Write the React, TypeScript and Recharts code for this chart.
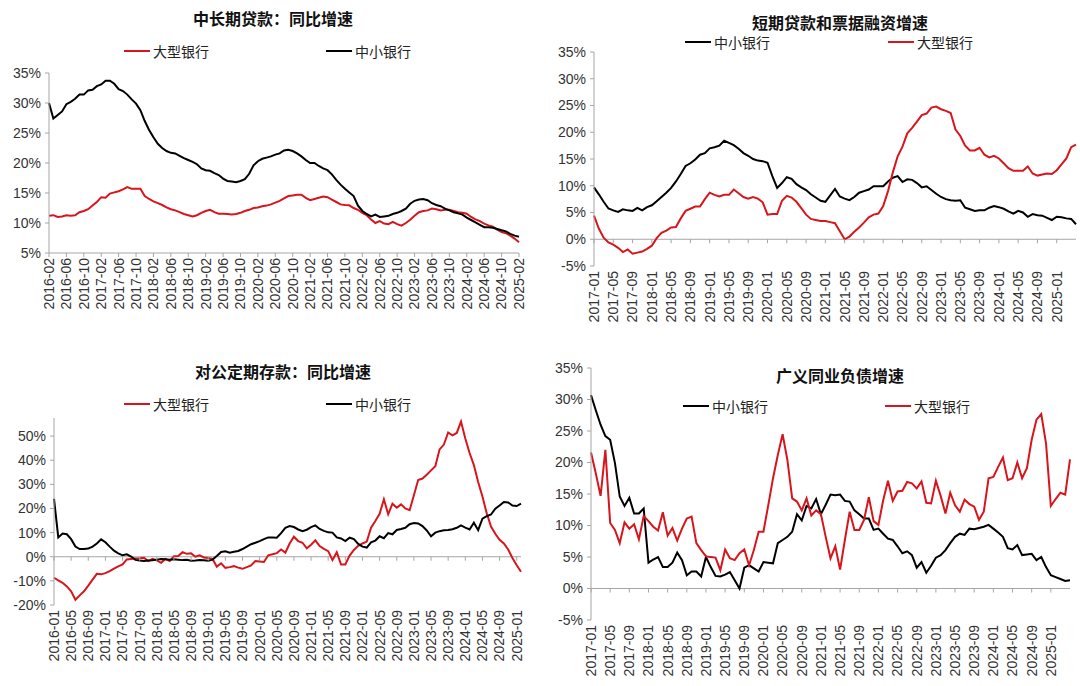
import { LineChart, Line, XAxis, YAxis, ReferenceLine } from "recharts";

const RED = "#d7151c";
const BLACK = "#000000";
const AXIS = "#a6a6a6";
const TEXT = "#333333";
const LATIN = '"Liberation Sans", Arial, sans-serif';
const CJK = '"Noto Sans CJK SC", "Noto Sans", sans-serif';

const W = 540;
const H = 343;
const XH = 60;

function months(year: number, month: number, count: number) {
  const out: string[] = [];
  for (let i = 0; i < count; i++) {
    const m = month - 1 + i;
    const y = year + Math.floor(m / 12);
    out.push(`${y}-${String((m % 12) + 1).padStart(2, "0")}`);
  }
  return out;
}

// 中长期贷款：同比增速 (2016-02 .. 2025-02)
const loanMonths = months(2016, 2, 109);
const loanLarge = [
  11.2, 11.3, 11.0, 11.1, 11.3, 11.2, 11.3, 11.8, 12.0, 12.3,
  12.9, 13.5, 14.3, 14.2, 14.9, 15.1, 15.3, 15.6, 16.0, 15.7,
  15.7, 15.7, 14.5, 14.0, 13.6, 13.3, 13.0, 12.6, 12.3, 12.1,
  11.8, 11.5, 11.3, 11.1, 11.3, 11.7, 12.0, 12.2, 11.8, 11.55,
  11.55, 11.5, 11.4, 11.5, 11.7, 12.0, 12.2, 12.5, 12.6, 12.8,
  12.9, 13.1, 13.4, 13.7, 14.1, 14.5, 14.6, 14.7, 14.7, 14.2,
  13.8, 14.0, 14.2, 14.4, 14.3, 13.9, 13.5, 13.1, 13.0, 12.95,
  12.5, 12.2, 11.7, 11.3, 10.6, 10.0, 10.3, 9.9, 9.8, 10.2,
  9.8, 9.55, 10.0, 10.55, 11.2, 11.8, 12.0, 12.1, 12.4, 12.3,
  12.1, 12.2, 12.2, 12.0, 11.8, 11.7, 11.55, 11.0, 10.6, 10.3,
  9.9, 9.6, 9.4, 8.9, 8.5, 8.3, 7.9, 7.4, 6.8,
];
const loanSmall = [
  30.0, 27.4, 28.0, 28.6, 29.8, 30.2, 30.7, 31.4, 31.4, 32.1,
  32.2, 32.8, 33.1, 33.7, 33.7, 33.2, 32.3, 32.0, 31.4, 30.6,
  29.9, 28.8, 27.0, 25.5, 24.3, 23.2, 22.5, 22.0, 21.7, 21.6,
  21.2, 20.8, 20.5, 20.2, 19.8, 19.1, 18.8, 18.7, 18.3, 18.0,
  17.4, 17.0, 16.9, 16.8, 17.0, 17.3, 18.2, 19.6, 20.3, 20.7,
  20.9, 21.1, 21.4, 21.6, 22.1, 22.2, 22.0, 21.6, 21.1, 20.5,
  20.0, 20.0, 19.5, 19.1, 18.8, 18.1, 17.2, 16.4, 15.7, 15.1,
  14.5, 12.9, 12.0, 11.5, 11.1, 11.4, 11.0, 11.1, 11.2, 11.5,
  11.7, 12.0, 12.4, 13.2, 13.7, 13.9, 14.0, 13.8, 13.3, 13.0,
  12.8, 12.4, 12.1, 11.8, 11.6, 11.4, 10.9, 10.5, 10.1, 9.7,
  9.3, 9.3, 9.2, 9.0, 8.8, 8.6, 8.2, 7.9, 7.7,
];
const loanTicks = loanMonths.filter((_, i) => i % 4 === 0);
const loanY = [5, 10, 15, 20, 25, 30, 35];

// 短期贷款和票据融资增速 (2017-01 .. 2025-05)
const shortMonths = months(2017, 1, 101);
const shortSmall = [
  9.7, 8.4, 7.0, 5.75, 5.4, 5.1, 5.6, 5.4, 5.3, 5.85,
  5.4, 6.0, 6.35, 7.1, 7.9, 8.7, 9.6, 10.8, 12.2, 13.7,
  14.2, 14.9, 15.8, 16.1, 17.0, 17.2, 17.5, 18.4, 18.0, 17.6,
  16.9, 16.1, 15.6, 15.0, 14.7, 14.6, 14.3, 11.8, 9.6, 10.5,
  11.6, 11.3, 10.3, 9.7, 9.2, 8.4, 7.8, 7.2, 7.0, 8.2,
  9.4, 8.0, 7.6, 7.3, 7.9, 8.7, 9.0, 9.3, 9.9, 9.9,
  9.9, 10.8, 11.5, 11.8, 10.7, 11.2, 11.1, 10.5, 9.7, 9.9,
  9.2, 8.5, 7.9, 7.5, 7.3, 7.2, 7.3, 5.9, 5.6, 5.3,
  5.4, 5.4, 5.9, 6.2, 6.0, 5.7, 5.2, 4.8, 5.3, 5.0,
  4.2, 4.7, 4.5, 4.4, 4.0, 3.6, 4.2, 4.1, 3.9, 3.8,
  2.8,
];
const shortLarge = [
  4.4, 2.0, 0.3, -0.6, -1.0, -1.6, -2.4, -1.9, -2.7, -2.5,
  -2.3, -1.8, -1.2, 0.2, 1.2, 1.6, 2.2, 2.3, 3.9, 5.3,
  5.7, 6.1, 6.1, 7.5, 8.7, 8.3, 8.0, 8.3, 8.3, 9.3,
  8.6, 7.9, 7.6, 7.9, 7.6, 6.9, 4.6, 4.7, 4.7, 7.2,
  8.1, 7.8, 7.0, 5.8, 4.6, 3.8, 3.6, 3.4, 3.4, 3.2,
  3.0, 1.5, 0.0, 0.5, 1.4, 2.2, 3.1, 4.1, 4.6, 4.8,
  6.2, 9.0, 12.5, 15.5, 17.3, 19.8, 20.8, 22.0, 23.2, 23.5,
  24.6, 24.8, 24.3, 24.0, 23.6, 20.5, 19.3, 17.5, 16.6, 16.6,
  17.1, 15.8, 15.3, 15.6, 15.1, 14.2, 13.3, 12.8, 12.8, 12.8,
  13.6, 12.3, 11.9, 12.1, 12.3, 12.2, 12.9, 14.0, 15.1, 17.2,
  17.7,
];
const shortTicks = shortMonths.filter((_, i) => i % 4 === 0 && i <= 96);
const shortY = [-5, 0, 5, 10, 15, 20, 25, 30, 35];

// 对公定期存款：同比增速 (2016-01 .. 2025-02)
const depMonths = months(2016, 1, 110);
const depLarge = [
  -8.7, -9.8, -10.8, -12.3, -14.3, -17.8, -16.0, -14.3, -12.0, -9.5,
  -7.1, -7.3, -6.8, -6.0, -4.9, -4.0, -3.2, -1.1, -0.9, -0.7,
  -0.6, -0.4, -1.8, -0.9, -1.5, -2.5, -0.9, -1.8, 0.2, 0.3,
  1.9, 1.2, 1.4, 0.0, 0.6, -0.3, -0.5, -0.9, -4.1, -2.7,
  -4.6, -4.3, -3.9, -4.5, -5.0, -4.3, -3.6, -1.8, -2.0, -2.2,
  0.6, 1.0, 1.5, 3.0, 1.7, 5.5, 8.3, 6.5, 5.8, 3.5,
  5.0, 6.8, 4.4, 3.3, 2.3, -1.4, 1.9, -3.2, -3.2, 0.5,
  2.8, 4.5, 5.5, 6.3, 12.0, 14.8, 17.8, 23.8, 17.6, 22.0,
  20.3, 21.7, 20.0, 19.3, 25.5, 31.8, 32.4, 34.0, 35.8, 37.5,
  44.5, 46.5, 51.5, 50.3, 51.3, 56.0, 49.0, 43.0, 38.0, 31.0,
  25.0, 18.0, 12.5, 9.5, 7.0, 5.5, 3.0, -0.5, -3.5, -6.2,
];
const depSmall = [
  24.0, 8.0, 9.6, 9.3, 7.3, 4.2, 3.2, 3.2, 3.4, 4.2,
  5.5, 7.2, 6.0, 4.2, 2.5, 1.4, 0.6, 1.0, 0.1, -1.3,
  -1.6, -1.8, -1.6, -1.5, -1.2, -0.9, -1.0, -1.2, -1.0, -1.2,
  -1.4, -1.3, -1.7, -1.6, -1.4, -1.5, -1.7, -1.2, 0.3, 2.0,
  2.3, 1.7, 2.1, 2.4, 3.2, 4.2, 5.2, 5.8, 6.5, 7.3,
  8.0, 8.0, 7.9, 9.8, 12.0, 12.7, 12.3, 11.3, 10.6, 11.2,
  12.3, 13.0, 11.5, 10.7, 10.1, 10.0, 8.0, 7.6, 6.5, 7.9,
  7.3, 5.3, 4.2, 3.8, 6.0, 6.7, 8.5, 7.7, 9.8, 9.3,
  11.1, 11.5, 12.0, 13.5, 14.0, 13.8, 12.7, 10.9, 8.5, 10.0,
  10.6, 11.0, 11.1, 11.4, 12.0, 13.0, 12.1, 11.3, 14.1, 11.0,
  15.8, 16.8, 17.5, 19.9, 21.2, 22.7, 22.5, 21.2, 21.0, 22.0,
];
const depTicks = depMonths.filter((_, i) => i % 4 === 0);
const depY = [-20, -10, 0, 10, 20, 30, 40, 50];

// 广义同业负债增速 (2017-01 .. 2025-05)
const ibMonths = months(2017, 1, 101);
const ibSmall = [
  30.7, 28.3, 26.0, 24.2, 23.6, 19.9, 14.6, 13.1, 14.4, 11.9,
  11.9, 12.7, 4.1, 4.6, 5.0, 3.4, 3.4, 4.1, 5.7, 4.5,
  2.1, 2.7, 2.7, 1.9, 5.0, 3.4, 2.0, 1.9, 2.2, 2.6,
  1.3, 0.0, 3.3, 3.7, 3.2, 2.7, 4.2, 4.1, 4.0, 7.2,
  7.7, 8.2, 9.0, 11.8, 10.8, 13.1, 12.7, 14.2, 11.8, 13.3,
  14.9, 14.8, 14.9, 13.9, 13.8, 12.4, 11.8, 11.1, 11.1, 9.3,
  9.5, 8.7, 7.9, 7.7, 6.7, 5.6, 5.9, 5.3, 3.3, 4.2,
  2.5, 3.6, 4.9, 5.3, 6.1, 7.2, 8.2, 8.7, 8.5, 9.5,
  9.4, 9.6, 9.8, 10.1, 9.5, 8.9, 8.2, 6.4, 6.2, 6.9,
  5.3, 5.4, 5.5, 4.5, 5.0, 3.4, 2.1, 1.8, 1.5, 1.2,
  1.3,
];
const ibLarge = [
  21.6, 18.3, 14.7, 22.0, 10.4, 9.3, 7.2, 10.5, 9.5, 10.2,
  7.8, 11.5, 10.7, 9.8, 9.2, 12.1, 8.4, 9.6, 7.6, 9.5,
  11.1, 11.4, 7.2, 6.1, 5.1, 5.0, 4.9, 2.9, 6.2, 4.8,
  4.5, 5.6, 6.2, 3.7, 6.1, 9.0, 9.0, 13.2, 17.5, 21.2,
  24.5, 20.4, 14.3, 13.8, 12.4, 14.3, 11.6, 12.4, 11.8, 8.2,
  4.8, 6.7, 3.0, 7.7, 12.2, 9.3, 9.3, 10.9, 14.5, 10.7,
  10.1, 14.0, 17.1, 13.9, 15.4, 15.5, 16.9, 16.7, 15.9, 17.0,
  13.6, 13.5, 17.1, 14.7, 11.9, 15.2, 13.2, 12.2, 14.1, 13.4,
  13.0, 10.9, 12.2, 17.5, 17.7, 19.3, 20.8, 17.2, 17.5, 20.0,
  17.5, 19.1, 23.6, 26.8, 27.7, 23.0, 13.1, 14.2, 15.2, 14.9,
  20.5,
];
const ibTicks = ibMonths.filter((_, i) => i % 4 === 0 && i <= 96);
const ibY = [-5, 0, 5, 10, 15, 20, 25, 30, 35];

type Row = { month: string; large: number; small: number };
function rows(m: string[], large: number[], small: number[]): Row[] {
  return m.map((month, i) => ({ month, large: large[i], small: small[i] }));
}

type LegendItem = { x: number; label: string; color: string };
type PanelProps = {
  left: number;
  top: number;
  title: string;
  titleX: number;
  titleY: number;
  legendY: number;
  legend: LegendItem[];
  data: Row[];
  order: ("large" | "small")[];
  domain: [number, number];
  yTicks: number[];
  xTicks: string[];
  margin: { top: number; right: number; bottom: number; left: number };
  yWidth: number;
  zeroAxis: boolean;
};

function Panel(p: PanelProps) {
  const plotH = H - p.margin.top - p.margin.bottom - XH;
  const plotBottom = p.margin.top + plotH;
  const markY = p.zeroAxis
    ? p.margin.top + (plotH * p.domain[1]) / (p.domain[1] - p.domain[0])
    : plotBottom;
  const labelTop = plotBottom + 5;

  const renderTick = (props: any) => {
    const { x, payload } = props;
    return (
      <g>
        <line x1={x} x2={x} y1={markY} y2={markY + 4} stroke={AXIS} strokeWidth={1} />
        <text
          x={x}
          y={labelTop}
          transform={`rotate(-90, ${x}, ${labelTop})`}
          textAnchor="end"
          dy="0.35em"
          fontSize={14}
          fontFamily={LATIN}
          fill={TEXT}
        >
          {payload.value}
        </text>
      </g>
    );
  };

  return (
    <div style={{ position: "absolute", left: p.left, top: p.top, width: W, height: H }}>
      <LineChart width={W} height={H} data={p.data} margin={p.margin}>
        <XAxis
          dataKey="month"
          ticks={p.xTicks}
          interval={0}
          height={XH}
          axisLine={p.zeroAxis ? false : { stroke: AXIS }}
          tickLine={false}
          tick={renderTick}
        />
        <YAxis
          type="number"
          domain={p.domain}
          ticks={p.yTicks}
          interval={0}
          allowDataOverflow
          width={p.yWidth}
          tickFormatter={(v: number) => `${v}%`}
          axisLine={{ stroke: AXIS }}
          tickLine={{ stroke: AXIS }}
          tickSize={4}
          tickMargin={4}
          tick={{ fontSize: 14, fill: TEXT, fontFamily: LATIN }}
        />
        {p.zeroAxis && <ReferenceLine y={0} stroke={AXIS} strokeWidth={1} />}
        {p.order.map((key) => (
          <Line
            key={key}
            type="linear"
            dataKey={key}
            stroke={key === "large" ? RED : BLACK}
            strokeWidth={2}
            dot={false}
            isAnimationActive={false}
          />
        ))}
      </LineChart>
      <div
        style={{
          position: "absolute",
          left: p.titleX - 200,
          top: p.titleY - 11,
          width: 400,
          textAlign: "center",
          fontFamily: CJK,
          fontWeight: 700,
          fontSize: 16,
          lineHeight: "22px",
          color: "#111",
        }}
      >
        {p.title}
      </div>
      {p.legend.map((it) => (
        <div
          key={it.label}
          style={{
            position: "absolute",
            left: it.x,
            top: p.legendY - 10,
            height: 20,
            display: "flex",
            alignItems: "center",
            fontFamily: CJK,
            fontSize: 14,
            color: "#222",
            whiteSpace: "nowrap",
          }}
        >
          <span style={{ display: "inline-block", width: 26, height: 2, background: it.color, marginRight: 3 }} />
          <span>{it.label}</span>
        </div>
      ))}
    </div>
  );
}

export default function App() {
  return (
    <div style={{ position: "absolute", left: 0, top: 0, width: 1080, height: 686, background: "#fff", overflow: "hidden" }}>
      <Panel
        left={0}
        top={0}
        title="中长期贷款：同比增速"
        titleX={273}
        titleY={18}
        legendY={51}
        legend={[
          { x: 124, label: "大型银行", color: RED },
          { x: 326, label: "中小银行", color: BLACK },
        ]}
        data={rows(loanMonths, loanLarge, loanSmall)}
        order={["large", "small"]}
        domain={[5, 35]}
        yTicks={loanY}
        xTicks={loanTicks}
        margin={{ top: 73, right: 21, bottom: 30, left: 0 }}
        yWidth={49}
        zeroAxis={false}
      />
      <Panel
        left={540}
        top={0}
        title="短期贷款和票据融资增速"
        titleX={300}
        titleY={22}
        legendY={42}
        legend={[
          { x: 145, label: "中小银行", color: BLACK },
          { x: 348, label: "大型银行", color: RED },
        ]}
        data={rows(shortMonths, shortLarge, shortSmall)}
        order={["small", "large"]}
        domain={[-5, 35]}
        yTicks={shortY}
        xTicks={shortTicks}
        margin={{ top: 52, right: 4, bottom: 17, left: 0 }}
        yWidth={54}
        zeroAxis={true}
      />
      <Panel
        left={0}
        top={343}
        title="对公定期存款：同比增速"
        titleX={283}
        titleY={28}
        legendY={61}
        legend={[
          { x: 124, label: "大型银行", color: RED },
          { x: 326, label: "中小银行", color: BLACK },
        ]}
        data={rows(depMonths, depLarge, depSmall)}
        order={["large", "small"]}
        domain={[-20, 57.5]}
        yTicks={depY}
        xTicks={depTicks}
        margin={{ top: 75, right: 19, bottom: 21, left: 0 }}
        yWidth={54}
        zeroAxis={true}
      />
      <Panel
        left={540}
        top={343}
        title="广义同业负债增速"
        titleX={300}
        titleY={32}
        legendY={63}
        legend={[
          { x: 143, label: "中小银行", color: BLACK },
          { x: 345, label: "大型银行", color: RED },
        ]}
        data={rows(ibMonths, ibLarge, ibSmall)}
        order={["small", "large"]}
        domain={[-5, 35]}
        yTicks={ibY}
        xTicks={ibTicks}
        margin={{ top: 25, right: 10, bottom: 6, left: 0 }}
        yWidth={51}
        zeroAxis={true}
      />
    </div>
  );
}
